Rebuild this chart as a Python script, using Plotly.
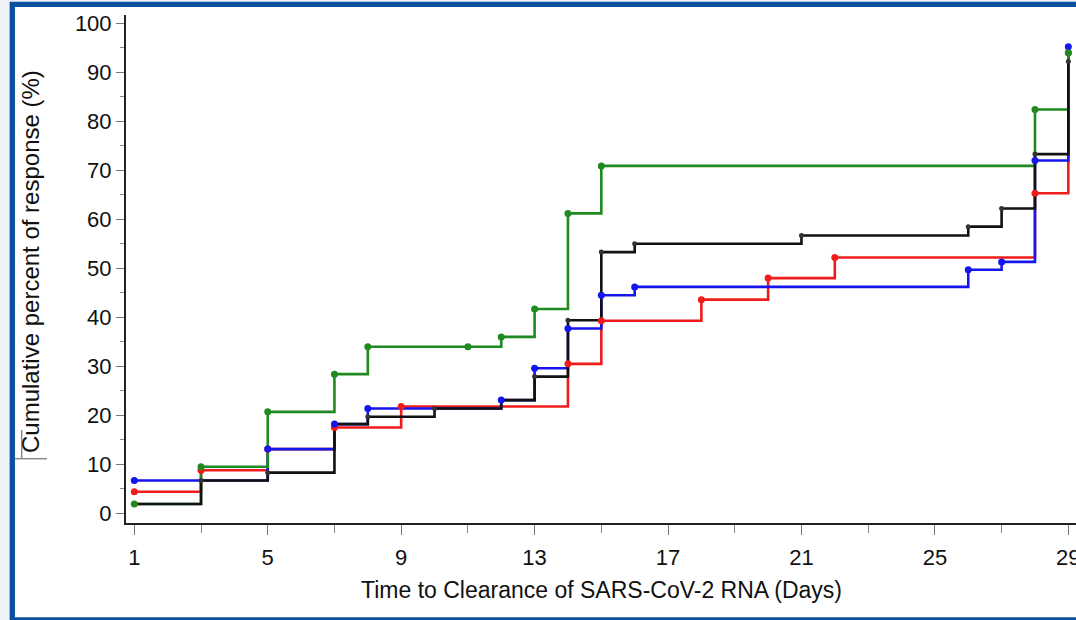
import plotly.graph_objects as go

# ---- data ----
red_days = [1, 3, 5, 7, 9, 14, 15, 18, 20, 22, 28, 29]
red_vals = [4.4, 8.8, 13.1, 17.5, 21.8, 30.5, 39.3, 43.6, 48.0, 52.2, 65.3, 94.0]

blue_days = [1, 5, 7, 8, 12, 13, 14, 15, 16, 26, 27, 28, 29]
blue_vals = [6.7, 13.1, 18.2, 21.4, 23.1, 29.6, 37.7, 44.5, 46.2, 49.7, 51.3, 72.0, 95.2]

green_days = [1, 3, 5, 7, 8, 11, 12, 13, 14, 15, 28, 29]
green_vals = [1.9, 9.5, 20.7, 28.4, 34.0, 34.0, 36.0, 41.7, 61.2, 70.9, 82.4, 94.0]

black_days = [1, 3, 5, 7, 8, 10, 12, 13, 14, 15, 16, 21, 26, 27, 28, 29]
black_vals = [1.9, 6.7, 8.3, 18.2, 19.7, 21.4, 23.1, 27.9, 39.4, 53.3, 55.0, 56.7, 58.5, 62.2, 73.3, 92.2]

x_ticks = [1, 5, 9, 13, 17, 21, 25, 29]
x_minor = [3, 7, 11, 15, 19, 23, 27]
y_ticks = [0, 10, 20, 30, 40, 50, 60, 70, 80, 90, 100]
y_minor = [5, 15, 25, 35, 45, 55, 65, 75, 85, 95]

x_title = "Time to Clearance of SARS-CoV-2 RNA (Days)"
y_title = "Cumulative percent of response (%)"

RED, BLUE, GREEN, BLACK = "#f01c1c", "#1515ee", "#1f8a1f", "#111111"

W, H = 1076, 620
L, R, T, B = 126, 0, 15, 97
PW, PH = W - L - R, H - T - B

def px_x(p):
    return (p - L) / PW

def px_y(p):
    return (H - B - p) / PH

fig = go.Figure()

series = [
    (red_days, red_vals, RED, 7),
    (blue_days, blue_vals, BLUE, 7),
    (green_days, green_vals, GREEN, 7),
    (black_days, black_vals, BLACK, 5),
]

# step lines
for d, v, c, _ in series:
    fig.add_trace(go.Scatter(x=d, y=v, mode="lines", line=dict(color=c, width=2.6, shape="hv"),
                             hoverinfo="skip", showlegend=False))
# markers (black first so coloured dots sit on top)
for d, v, c, s in [series[3], series[0], series[1], series[2]]:
    fig.add_trace(go.Scatter(x=d, y=v, mode="markers",
                             marker=dict(color=c if c != BLACK else "#333333", size=s),
                             hoverinfo="skip", showlegend=False))

font_family = "Liberation Sans, Arial, sans-serif"

fig.update_xaxes(
    range=[0.751, 29.23], tickmode="array", tickvals=x_ticks, ticktext=[str(t) for t in x_ticks],
    showgrid=False, zeroline=False, showline=True, linecolor="#222222", linewidth=2,
    ticks="outside", ticklen=10, tickwidth=1, tickcolor="#777777", ticklabelstandoff=4,
    ticklabeloverflow="allow", automargin=False,
    minor=dict(tickmode="array", tickvals=x_minor, ticks="outside",
               ticklen=8, tickwidth=1, tickcolor="#888888"),
    tickfont=dict(family=font_family, size=22, color="#111111"),
)
fig.update_yaxes(
    range=[-1.98, 101.69], tickmode="array", tickvals=y_ticks, ticktext=[str(t) for t in y_ticks],
    showgrid=False, zeroline=False, showline=True, linecolor="#222222", linewidth=2,
    ticks="outside", ticklen=8, tickwidth=1, tickcolor="#777777", automargin=False,
    minor=dict(tickmode="array", tickvals=y_minor, ticks="outside",
               ticklen=4, tickwidth=1, tickcolor="#888888"),
    tickfont=dict(family=font_family, size=22, color="#111111"),
)

shapes = [
    # white frame with blue border
    dict(type="rect", xref="paper", yref="paper",
         x0=px_x(12.3), x1=px_x(1085), y0=px_y(620), y1=px_y(4.4),
         fillcolor="white", line=dict(color="#0b4f9e", width=5.3), layer="below"),
    # small bracket artifact near the y title
    dict(type="line", xref="paper", yref="paper",
         x0=px_x(15), x1=px_x(47), y0=px_y(458.7), y1=px_y(458.7),
         line=dict(color="#8a8a8a", width=1.5)),
    dict(type="line", xref="paper", yref="paper",
         x0=px_x(21.7), x1=px_x(21.7), y0=px_y(458.7), y1=px_y(430),
         line=dict(color="#8a8a8a", width=1.5)),
]

annotations = [
    dict(text=x_title, xref="paper", yref="paper", x=px_x(601), y=px_y(590),
         xanchor="center", yanchor="middle", showarrow=False,
         font=dict(family=font_family, size=23, color="#111111")),
    dict(text=y_title, xref="paper", yref="paper", x=px_x(30), y=px_y(262),
         xanchor="center", yanchor="middle", textangle=-90, showarrow=False,
         font=dict(family=font_family, size=24, color="#111111")),
]

fig.update_layout(
    width=W, height=H, autosize=False,
    margin=dict(l=L, r=R, t=T, b=B, pad=0, autoexpand=False),
    paper_bgcolor="#eef1f6", plot_bgcolor="rgba(0,0,0,0)",
    shapes=shapes, annotations=annotations, showlegend=False,
    font=dict(family=font_family),
)

fig.write_html(
    "out.html",
    config={"displayModeBar": False},
    post_script="document.body.style.margin='0';document.body.style.overflow='hidden';",
)
